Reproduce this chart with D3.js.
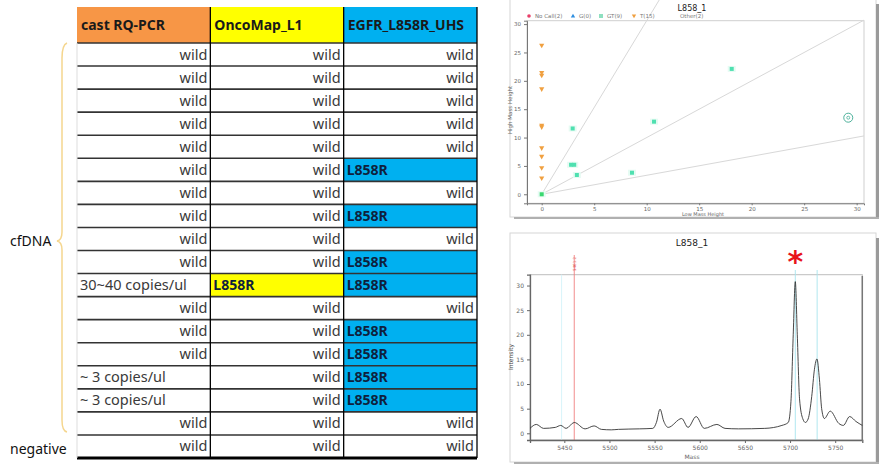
<!DOCTYPE html>
<html>
<head>
<meta charset="utf-8">
<script src="https://cdn.jsdelivr.net/npm/d3@7"></script>
<style>
  body { margin: 0; background: #fff; }
  svg { display: block; }
</style>
</head>
<body>
<div id="canvas"></div>
<script>
// ---------- data ----------
const headers = ["cast RQ-PCR", "OncoMap_L1", "EGFR_L858R_UHS"];
const rows = [
  ["wild", "wild", "wild"],
  ["wild", "wild", "wild"],
  ["wild", "wild", "wild"],
  ["wild", "wild", "wild"],
  ["wild", "wild", "wild"],
  ["wild", "wild", "L858R"],
  ["wild", "wild", "wild"],
  ["wild", "wild", "L858R"],
  ["wild", "wild", "wild"],
  ["wild", "wild", "L858R"],
  ["30~40 copies/ul", "L858R", "L858R"],
  ["wild", "wild", "wild"],
  ["wild", "wild", "L858R"],
  ["wild", "wild", "L858R"],
  ["~ 3 copies/ul", "wild", "L858R"],
  ["~ 3 copies/ul", "wild", "L858R"],
  ["wild", "wild", "wild"],
  ["wild", "wild", "wild"]
];
const groupLabels = ["cfDNA", "negative"];

// cluster plot (low mass height, high mass height)
const legendItems = ["No Call(2)", "G(0)", "GT(9)", "T(15)", "Other(2)"];
const tCalls = [[0, 26.2], [0, 21.4], [0, 20.9], [0, 18.5], [0, 12.1], [0, 11.8],
                [0, 8.1], [0, 6.6], [0, 4.6], [0, 2.8]];
const gtCalls = [[0, 0], [2.95, 11.6], [2.8, 5.2], [3.1, 5.2], [3.35, 3.4],
                 [8.6, 3.8], [10.7, 12.8], [18.1, 22.1]];
const otherCalls = [[29.2, 13.5]];
const callSlopes = [3.06, 1.0, 0.335];
const clusterTicks = [0, 5, 10, 15, 20, 25, 30];

// spectrum (mass, intensity)
const spectrum = [
  [5412, 1.0], [5419, 1.8], [5427, 1.0], [5440, 1.2], [5446, 1.6], [5452, 1.0],
  [5461, 2.2], [5473, 0.9], [5483, 1.5], [5491, 0.8], [5502, 0.7], [5510, 0.8],
  [5533, 0.9], [5548, 1.0], [5552, 2.2], [5556, 4.9], [5560, 2.5], [5565, 1.2],
  [5580, 3.0], [5587, 1.2], [5596, 3.4], [5605, 1.0], [5619, 1.8], [5628, 1.0],
  [5643, 0.9], [5672, 1.0], [5691, 1.6], [5698, 2.2], [5701, 6.5], [5703.5, 20],
  [5705.8, 30.8], [5708, 20], [5710.5, 7], [5714, 3], [5717, 2.2], [5720, 2.9],
  [5724, 7.5], [5727, 13], [5729.8, 15.1], [5732.5, 11], [5735, 5], [5738, 3.0],
  [5744.5, 4.5], [5754, 2.0], [5759, 1.6], [5766, 3.4], [5773, 2.4], [5780, 1.6]
];
const massTicks = [5450, 5500, 5550, 5600, 5650, 5700, 5750];
const intensityTicks = [0, 5, 10, 15, 20, 25, 30];
const markerRed = 5461;
const markerCyan = [5705.8, 5730];

// ---------- svg ----------
const width = 886, height = 469;
const svg = d3.select("#canvas")
    .append("svg")
    .attr("width", width)
    .attr("height", height);

svg.append("rect").attr("width", width).attr("height", height).attr("fill", "#fff");

// ---------- table ----------
const colX = d3.scaleBand().domain([0, 1, 2]).range([77, 477]);
const rowY = d3.scaleBand().domain(d3.range(rows.length)).range([43, 458]);
const headerFill = ["#F79646", "#FFFF00", "#00B0F0"];
const font = "'Noto Sans', 'DejaVu Sans', sans-serif";

const head = svg.append("g");
head.selectAll("rect")
    .data(headers)
    .join("rect")
    .attr("x", (d, i) => colX(i))
    .attr("y", 7)
    .attr("width", colX.bandwidth())
    .attr("height", 36)
    .attr("fill", (d, i) => headerFill[i]);

head.selectAll("text")
    .data(headers)
    .join("text")
    .attr("x", (d, i) => colX(i) + 4)
    .attr("y", 30)
    .attr("font-family", font)
    .attr("font-size", 14)
    .attr("font-weight", "bold")
    .attr("fill", "#1a1a1a")
    .text(d => d);

const cells = rows.flatMap((r, ri) => r.map((v, ci) => ({ v, ri, ci })));

svg.append("g").selectAll("rect")
    .data(cells.filter(c => c.v === "L858R"))
    .join("rect")
    .attr("x", d => colX(d.ci))
    .attr("y", d => rowY(d.ri))
    .attr("width", colX.bandwidth())
    .attr("height", rowY.bandwidth())
    .attr("fill", d => d.ci === 1 ? "#FFFF00" : "#00B0F0");

svg.append("g").selectAll("text")
    .data(cells)
    .join("text")
    .attr("x", d => d.v === "wild" ? colX(d.ci) + colX.bandwidth() - 3 : colX(d.ci) + 3)
    .attr("y", d => rowY(d.ri) + rowY.bandwidth() / 2 + 5)
    .attr("text-anchor", d => d.v === "wild" ? "end" : "start")
    .attr("font-family", font)
    .attr("font-size", d => d.v === "L858R" ? 14 : 14.5)
    .attr("font-weight", d => d.v === "L858R" ? "bold" : "normal")
    .attr("fill", d => d.v === "L858R" ? "#0f1f3d" : "#3a3a3a")
    .text(d => d.v);

// grid lines
svg.append("g").selectAll("line")
    .data(d3.range(rows.length + 1))
    .join("line")
    .attr("x1", 77).attr("x2", 477)
    .attr("y1", i => i === rows.length ? 458 : rowY(i))
    .attr("y2", i => i === rows.length ? 458 : rowY(i))
    .attr("stroke", i => i === rows.length ? "#000" : "#333")
    .attr("stroke-width", i => i === rows.length ? 3 : 1.6);

svg.append("g").selectAll("line")
    .data([1, 2, 3])
    .join("line")
    .attr("x1", i => colX(i) === undefined ? 477 : colX(i))
    .attr("x2", i => colX(i) === undefined ? 477 : colX(i))
    .attr("y1", 7).attr("y2", 458)
    .attr("stroke", "#000")
    .attr("stroke-width", 1.3);

svg.append("line")
    .attr("x1", 77).attr("x2", 77).attr("y1", 43).attr("y2", 458)
    .attr("stroke", "#ddd");

// brace + group labels
svg.append("path")
    .attr("d", "M67,43 Q62,45 62,58 L62,232 Q62,240 57,241 Q62,242 62,250 L62,420 Q62,431 67,432")
    .attr("fill", "none")
    .attr("stroke", "#F5D68E")
    .attr("stroke-width", 1.5);

svg.append("text")
    .attr("x", 10).attr("y", 246)
    .attr("font-family", font).attr("font-size", 14).attr("fill", "#111")
    .text(groupLabels[0]);

svg.append("text")
    .attr("x", 10).attr("y", 454)
    .attr("font-family", font).attr("font-size", 14).attr("fill", "#111")
    .text(groupLabels[1]);

// ---------- panels ----------
const plotFont = "'DejaVu Sans', Verdana, sans-serif";

function panel(y0, h) {
    svg.append("rect")
        .attr("x", 510).attr("y", y0).attr("width", 366).attr("height", h)
        .attr("fill", "#fff").attr("stroke", "#d6d6d6");
    svg.append("rect")
        .attr("x", 876).attr("y", y0 + 5).attr("width", 3).attr("height", h - 3)
        .attr("fill", "#9a9a9a");
    svg.append("rect")
        .attr("x", 514).attr("y", y0 + h).attr("width", 365).attr("height", 2)
        .attr("fill", "#b0b0b0");
}

panel(-1, 218);
panel(233, 229);

// ---------- cluster plot ----------
const cx = d3.scaleLinear().domain([-1.4, 30.7]).range([527, 864]);
const cy = d3.scaleLinear().domain([-1.59, 30.6]).range([203.3, 20.7]);

svg.append("text")
    .attr("x", 692).attr("y", 11)
    .attr("text-anchor", "middle")
    .attr("font-family", plotFont).attr("font-size", 8).attr("fill", "#222")
    .text("L858_1");

// frame
svg.append("rect")
    .attr("x", 527).attr("y", 20.7).attr("width", 337).attr("height", 182.6)
    .attr("fill", "none").attr("stroke", "#cfcfcf");

// call boundary lines
svg.append("defs").append("clipPath").attr("id", "clipC")
    .append("rect").attr("x", 527).attr("y", 0).attr("width", 337).attr("height", 203);

svg.append("g").attr("clip-path", "url(#clipC)")
    .selectAll("line")
    .data(callSlopes)
    .join("line")
    .attr("x1", cx(0)).attr("y1", cy(0))
    .attr("x2", d => cx(40)).attr("y2", d => cy(40 * d))
    .attr("stroke", "#d8d8d8").attr("stroke-width", 1);

// axes
const cAxisX = svg.append("g")
    .attr("transform", "translate(0,203.3)")
    .call(d3.axisBottom(cx).tickValues(clusterTicks).tickSize(2).tickPadding(1.5));
const cAxisY = svg.append("g")
    .attr("transform", "translate(527,0)")
    .call(d3.axisLeft(cy).tickValues(clusterTicks).tickSize(3));
[cAxisX, cAxisY].forEach(a => {
    a.select(".domain").attr("stroke", "#777");
    a.selectAll(".tick line").attr("stroke", "#777");
    a.selectAll("text").attr("font-family", plotFont).attr("font-size", 5.5).attr("fill", "#666");
});

svg.append("text")
    .attr("x", 703).attr("y", 216)
    .attr("text-anchor", "middle")
    .attr("font-family", plotFont).attr("font-size", 5).attr("fill", "#666")
    .text("Low Mass Height");

svg.append("text")
    .attr("transform", "translate(512,110)rotate(-90)")
    .attr("text-anchor", "middle")
    .attr("font-family", plotFont).attr("font-size", 5.5).attr("fill", "#666")
    .text("High Mass Height");

// legend
const legendX = [529, 573, 601, 634, 680];
const legend = svg.append("g");
legendItems.forEach((t, i) => {
    const x = legendX[i], y = 16;
    if (i === 0) legend.append("circle").attr("cx", x).attr("cy", y).attr("r", 1.8).attr("fill", "#e8406a");
    if (i === 1) legend.append("path").attr("d", `M${x},${y - 2.2}L${x + 2.2},${y + 1.6}L${x - 2.2},${y + 1.6}Z`).attr("fill", "#2f8fe0");
    if (i === 2) legend.append("rect").attr("x", x - 2).attr("y", y - 2).attr("width", 4).attr("height", 4).attr("fill", "#8fe0c0");
    if (i === 3) legend.append("path").attr("d", `M${x - 2.2},${y - 1.6}L${x + 2.2},${y - 1.6}L${x},${y + 2.2}Z`).attr("fill", "#f0a040");
    legend.append("text")
        .attr("x", i === 4 ? x : x + 6).attr("y", y + 2)
        .attr("font-family", plotFont).attr("font-size", 5.5).attr("fill", "#777")
        .text(t);
});

// points
svg.append("g").selectAll("rect")
    .data(gtCalls)
    .join("rect")
    .attr("x", d => cx(d[0]) - 4).attr("y", d => cy(d[1]) - 3)
    .attr("width", 8).attr("height", 6)
    .attr("fill", "#e6fbf3");

svg.append("g").selectAll("rect")
    .data(gtCalls)
    .join("rect")
    .attr("x", d => cx(d[0]) - 2).attr("y", d => cy(d[1]) - 2)
    .attr("width", 4).attr("height", 4)
    .attr("fill", d => d[0] === 0 ? "#3ad870" : "#4fe0b0");

svg.append("g").selectAll("path")
    .data(tCalls)
    .join("path")
    .attr("d", d => {
        const x = cx(d[0]), y = cy(d[1]);
        return `M${x - 2.6},${y - 2}L${x + 2.6},${y - 2}L${x},${y + 2.6}Z`;
    })
    .attr("fill", "#f0a040");

svg.append("g").selectAll("circle")
    .data(otherCalls)
    .join("circle")
    .attr("cx", d => cx(d[0])).attr("cy", d => cy(d[1]))
    .attr("r", 4.5)
    .attr("fill", "none").attr("stroke", "#3aa890").attr("stroke-width", 0.9);

svg.append("g").selectAll("circle")
    .data(otherCalls)
    .join("circle")
    .attr("cx", d => cx(d[0])).attr("cy", d => cy(d[1]))
    .attr("r", 1.5)
    .attr("fill", "none").attr("stroke", "#3aa890").attr("stroke-width", 0.7);

// ---------- spectrum ----------
const sx = d3.scaleLinear().domain([5412, 5780]).range([530, 862.3]);
const sy = d3.scaleLinear().domain([-1.36, 32.2]).range([440, 274.7]);

svg.append("text")
    .attr("x", 692).attr("y", 246)
    .attr("text-anchor", "middle")
    .attr("font-family", plotFont).attr("font-size", 9).attr("fill", "#222")
    .text("L858_1");

svg.append("rect")
    .attr("x", 530).attr("y", 274.7).attr("width", 332.3).attr("height", 165.3)
    .attr("fill", "none").attr("stroke", "#bdbdbd");

// marker lines
svg.append("line")
    .attr("x1", sx(5447)).attr("x2", sx(5447)).attr("y1", 274.7).attr("y2", 440)
    .attr("stroke", "#d8f4fa");

svg.append("g").selectAll("line")
    .data(markerCyan)
    .join("line")
    .attr("x1", d => sx(d)).attr("x2", d => sx(d))
    .attr("y1", 270).attr("y2", 440)
    .attr("stroke", "#a8e4ee").attr("stroke-width", 0.9);

svg.append("line")
    .attr("x1", sx(markerRed)).attr("x2", sx(markerRed))
    .attr("y1", 255).attr("y2", 440)
    .attr("stroke", "#f08080").attr("stroke-width", 0.9);

svg.append("text")
    .attr("transform", `translate(${sx(markerRed) + 1.5},264)rotate(-90)`)
    .attr("text-anchor", "middle")
    .attr("font-family", plotFont).attr("font-size", 4).attr("fill", "#e05050")
    .text("5461.2");

// asterisk
svg.append("text")
    .attr("x", sx(markerCyan[0])).attr("y", 272)
    .attr("text-anchor", "middle")
    .attr("font-family", plotFont).attr("font-size", 30).attr("font-weight", "bold")
    .attr("fill", "#e8141a")
    .text("*");

// axes
const sAxisX = svg.append("g")
    .attr("transform", "translate(0,440)")
    .call(d3.axisBottom(sx).tickValues(massTicks).tickFormat(d3.format("d")).tickSize(3));
const sAxisY = svg.append("g")
    .attr("transform", "translate(530,0)")
    .call(d3.axisLeft(sy).tickValues(intensityTicks).tickSize(3));
[sAxisX, sAxisY].forEach(a => {
    a.select(".domain").attr("stroke", "#666").attr("stroke-width", 1.3);
    a.selectAll(".tick line").attr("stroke", "#666");
    a.selectAll("text").attr("font-family", plotFont).attr("font-size", 6).attr("fill", "#666");
});

svg.append("line")
    .attr("x1", 862.3).attr("x2", 862.3).attr("y1", 276).attr("y2", 441)
    .attr("stroke", "#777").attr("stroke-width", 1.5);

svg.append("text")
    .attr("x", 692).attr("y", 459)
    .attr("text-anchor", "middle")
    .attr("font-family", plotFont).attr("font-size", 6).attr("fill", "#666")
    .text("Mass");

svg.append("text")
    .attr("transform", "translate(513,357)rotate(-90)")
    .attr("text-anchor", "middle")
    .attr("font-family", plotFont).attr("font-size", 6).attr("fill", "#444")
    .text("Intensity");

// trace
const line = d3.line()
    .x(d => sx(d[0]))
    .y(d => sy(d[1]))
    .curve(d3.curveMonotoneX);

svg.append("path")
    .datum(spectrum)
    .attr("d", line)
    .attr("fill", "none")
    .attr("stroke", "#333")
    .attr("stroke-width", 0.9);
</script>
</body>
</html>
